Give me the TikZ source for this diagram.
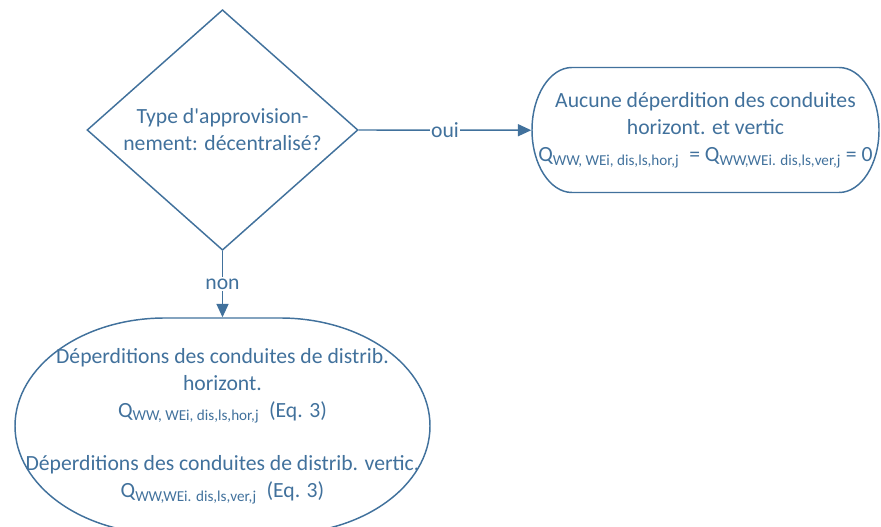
\documentclass[tikz,border=0pt]{standalone}
\usepackage{fontspec}
\setmainfont{Carlito}
\usetikzlibrary{shapes.geometric,arrows.meta}
\definecolor{flowblue}{RGB}{65,113,156}
\newcommand{\qsub}[1]{\textsubscript{#1}}

\begin{document}
\begin{tikzpicture}[x=0.75pt, y=0.75pt, color=flowblue, line width=1.1pt,
    font=\fontsize{16.25}{20.25}\selectfont,
    decision/.style={diamond, draw, inner sep=0pt, align=center,
        minimum width=203.25pt, minimum height=180pt},
    outcome/.style={inner sep=0pt, align=center},
    flow/.style={-{Triangle[length=10pt, width=9pt]}},
    tag/.style={fill=white, inner sep=1pt}]

    \useasboundingbox (0, 0) rectangle (881, 527);

    %% Decision

    % Supply type
    \node [decision] (supply) at (222.5, 397)
        {Type d\textquotesingle approvision-\\nement: décentralisé?};

    %% Outcomes

    % No loss
    \node [outcome, minimum width=260.25pt, minimum height=93.75pt] (noloss) at (705.5, 396.75)
        {Aucune déperdition des conduites\\horizont. et vertic\\
         Q\qsub{WW, WEi, dis,ls,hor,j}\ \ = Q\qsub{WW,WEi. dis,ls,ver,j} = 0};
    \draw (572, 459.5) -- (839, 459.5)
        arc [start angle=90, end angle=-90, x radius=40, y radius=62.5]
        -- (572, 334.5)
        arc [start angle=270, end angle=90, x radius=40, y radius=62.5] -- cycle;

    % Distribution losses
    \node [outcome, minimum width=311.25pt, minimum height=162pt] (loss) at (222.5, 101)
        {Déperditions des conduites de distrib.\\horizont.\\
         Q\qsub{WW, WEi, dis,ls,hor,j}\ \ (Eq. 3)\\[20pt]
         Déperditions des conduites de distrib. vertic.\\
         Q\qsub{WW,WEi. dis,ls,ver,j}\ \ (Eq. 3)};
    \draw (165, 209) -- (280, 209)
        arc [start angle=90, end angle=-90, x radius=150, y radius=108]
        -- (165, -7)
        arc [start angle=270, end angle=90, x radius=150, y radius=108] -- cycle;

    %% Connectors
    \draw [flow] (supply.east) -- node [tag] {oui} (noloss.west);
    \draw [flow] (supply.south) -- node [tag] {non} (loss.north);

\end{tikzpicture}
\end{document}
